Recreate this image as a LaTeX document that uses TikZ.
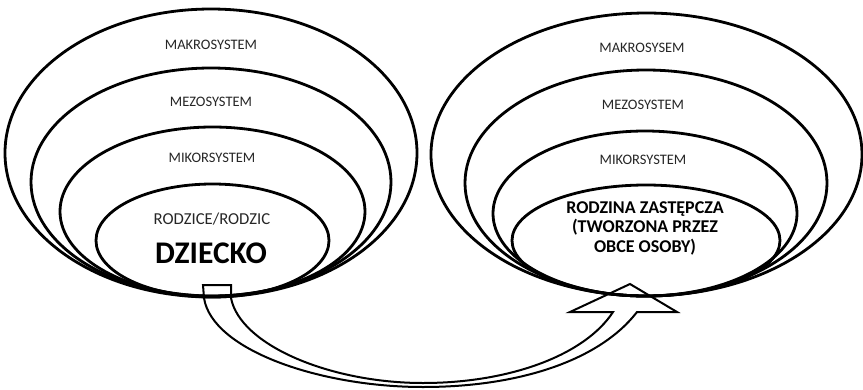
\documentclass[tikz,border=0pt]{standalone}
\usepackage{fontspec}
\setmainfont{Carlito}
\usetikzlibrary{shapes.geometric}
\begin{document}
\begin{tikzpicture}[x=1pt,y=-1pt,
  ring/.style={draw=black, line width=2.8pt, ellipse, inner sep=0pt},
  lab/.style={font=\fontsize{14.5}{16}\selectfont, text=black!85, inner sep=0pt},
  boldlab/.style={font=\fontsize{18}{19.5}\selectfont\bfseries, align=center, inner sep=0pt},
  blockarrow/.style={draw=black, line width=2pt, line join=miter}]
\useasboundingbox (0,0) rectangle (863,389);
% left set
\node[ring, minimum width=412pt, minimum height=288pt] (L1) at (211,153) {};
\node[ring, minimum width=360pt, minimum height=228pt] (L2) at (211,182) {};
\node[ring, minimum width=305pt, minimum height=169pt] (L3) at (212.5,211.5) {};
\node[ring, minimum width=233pt, minimum height=113pt] (L4) at (212.5,240.5) {};
\node[lab] (tL1) at (211,45) {MAKROSYSTEM};
\node[lab] (tL2) at (211,102) {MEZOSYSTEM};
\node[lab] (tL3) at (212,158) {MIKORSYSTEM};
\node[lab, font=\fontsize{16.7}{18}\selectfont] (tL4) at (212,219) {RODZICE/RODZIC};
\node[inner sep=0pt, font=\fontsize{31.5}{33}\selectfont\bfseries] (child) at (211,253) {DZIECKO};
% right set
\node[ring, minimum width=431pt, minimum height=283pt] (R1) at (646.5,154.5) {};
\node[ring, minimum width=362pt, minimum height=226pt] (R2) at (646,183) {};
\node[ring, minimum width=304pt, minimum height=165pt] (R3) at (645,213.5) {};
\node[ring, minimum width=268pt, minimum height=111pt] (R4) at (646,240.5) {};
\node[lab] (tR1) at (642,48) {MAKROSYSEM};
\node[lab] (tR2) at (643,105) {MEZOSYSTEM};
\node[lab] (tR3) at (643,160) {MIKORSYSTEM};
\node[boldlab] (tR4) at (645,228) {RODZINA ZASTĘPCZA\\(TWORZONA PRZEZ\\OBCE OSOBY)};
% block arrow from L4 to R4
\coordinate (s1) at (203,285);
\coordinate (s2) at (231,285);
\coordinate (tip) at (630,284);
\draw[blockarrow] (s1) -- (s2) -- (231,298)
  .. controls (240,345) and (330,383) .. (423,383)
  .. controls (510,383) and (585,355) .. (613,312)
  -- (570,312) -- (tip) -- (677,312) -- (637,312)
  .. controls (600,360) and (520,387) .. (423,387)
  .. controls (320,387) and (212,350) .. (204,298)
  -- cycle;
\end{tikzpicture}
\end{document}
